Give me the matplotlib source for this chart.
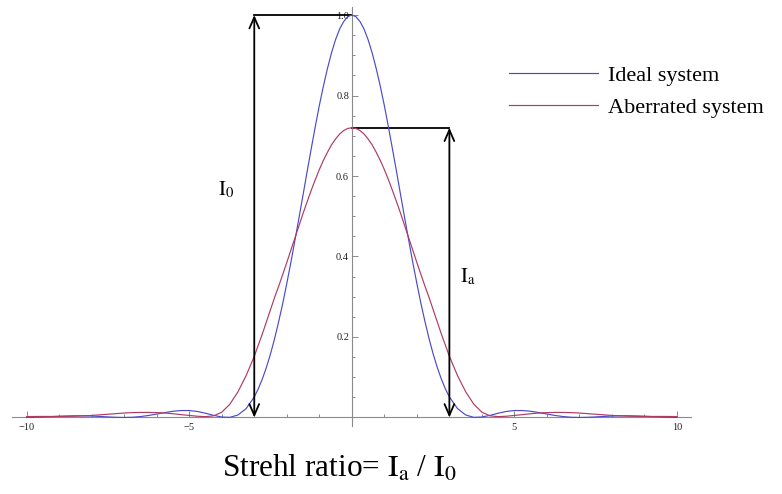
import numpy as np
import matplotlib
matplotlib.use("Agg")
import matplotlib.pyplot as plt

plt.rcParams["font.family"] = ["Liberation Serif", "DejaVu Serif"]
plt.rcParams["mathtext.fontset"] = "stix"

# sample positions: step 0.25 in the tails, 0.125 around the central peak
x = np.concatenate([np.arange(-10, -3, 0.25),
                    np.arange(-3, 3, 0.125),
                    np.arange(3, 10.001, 0.25)])

# intensity of the ideal system
ideal = [0.0001, 0.0005, 0.0012, 0.0020, 0.0030, 0.0037, 0.0041, 0.0040, 0.0034, 0.0025,
         0.0013, 0.0004, 0.0000, 0.0005, 0.0022, 0.0049, 0.0085, 0.0121, 0.0154, 0.0172,
         0.0172, 0.0149, 0.0105, 0.0052, 0.0011, 0.0003, 0.0062, 0.022,
         # centre, x = -3 .. 2.875
         0.051, 0.0714, 0.096, 0.1249, 0.158, 0.1958, 0.238, 0.2833, 0.333, 0.3849,
         0.440, 0.4960, 0.553, 0.6109, 0.667, 0.7224, 0.775, 0.8232, 0.867, 0.9061,
         0.939, 0.9653, 0.984, 0.9961, 1.000, 0.9961, 0.984, 0.9653, 0.939, 0.9061,
         0.867, 0.8232, 0.775, 0.7224, 0.667, 0.6109, 0.553, 0.4960, 0.440, 0.3849,
         0.333, 0.2833, 0.238, 0.1958, 0.158, 0.1249, 0.096, 0.0714,
         # x = 3 .. 10
         0.051, 0.022, 0.0062, 0.0003, 0.0011, 0.0052, 0.0105, 0.0149, 0.0172, 0.0172,
         0.0154, 0.0121, 0.0085, 0.0049, 0.0022, 0.0005, 0.0000, 0.0004, 0.0013, 0.0025,
         0.0034, 0.0040, 0.0041, 0.0037, 0.0030, 0.0020, 0.0012, 0.0005, 0.0001]

# intensity of the aberrated system
aberrated = [0.0022, 0.0024, 0.0025, 0.0025, 0.0025, 0.0027, 0.0032, 0.004, 0.005, 0.0065,
             0.008, 0.0095, 0.011, 0.012, 0.0125, 0.0125, 0.012, 0.011, 0.0093, 0.007,
             0.005, 0.003, 0.002, 0.004, 0.013, 0.033, 0.064, 0.104,
             # centre, x = -3 .. 2.875
             0.152, 0.180, 0.208, 0.238, 0.268, 0.2983, 0.326, 0.3555, 0.385, 0.4157,
             0.446, 0.4766, 0.507, 0.5359, 0.564, 0.5908, 0.616, 0.6388, 0.659, 0.6774,
             0.692, 0.7044, 0.713, 0.7182, 0.720, 0.7182, 0.713, 0.7044, 0.692, 0.6774,
             0.659, 0.6388, 0.616, 0.5908, 0.564, 0.5359, 0.507, 0.4766, 0.446, 0.4157,
             0.385, 0.3555, 0.326, 0.2983, 0.268, 0.238, 0.208, 0.180,
             # x = 3 .. 10
             0.152, 0.104, 0.064, 0.033, 0.013, 0.004, 0.002, 0.003, 0.005, 0.007,
             0.0093, 0.011, 0.012, 0.0125, 0.0125, 0.012, 0.011, 0.0095, 0.008, 0.0065,
             0.005, 0.004, 0.0032, 0.0027, 0.0025, 0.0025, 0.0025, 0.0024, 0.0022]

series_names = ["Ideal system", "Aberrated system"]
x_major = [-10, -5, 5, 10]
x_labels = ["\u221210", "\u22125", "5", "10"]
y_major = [0.2, 0.4, 0.6, 0.8, 1.0]
y_labels = ["0.2", "0.4", "0.6", "0.8", "1.0"]
arrow_x = [-3.0, 3.0]  # where the I0 / Ia arrows stand

blue = "#4b4bc8"
red = "#b03a64"

fig = plt.figure(figsize=(7.82, 4.94), dpi=100)
ax = fig.add_axes([12 / 782, 1 - 425.5 / 494, 679 / 782, 418.5 / 494])
ax.set_xlim(-10.45, 10.43)
ax.set_ylim(-0.02, 1.02)

ax.plot(x, ideal, color=blue, lw=0.85, label=series_names[0], clip_on=False, zorder=3)
ax.plot(x, aberrated, color=red, lw=0.85, label=series_names[1], clip_on=False, zorder=3)

# axes through the origin, Mathematica style
for s in ["top", "right"]:
    ax.spines[s].set_visible(False)
ax.spines["bottom"].set_position(("data", 0))
ax.spines["left"].set_position(("data", 0))
for s in ["bottom", "left"]:
    ax.spines[s].set_color("#8a8a8a")
    ax.spines[s].set_linewidth(0.8)

ax.set_xticks(x_major)
ax.set_xticklabels(x_labels)
ax.set_xticks([v for v in range(-9, 10) if v % 5 != 0], minor=True)
ax.set_yticks(y_major)
ax.set_yticklabels(y_labels)
ax.set_yticks([v / 20 for v in range(1, 20) if v % 4 != 0], minor=True)
ax.tick_params(which="both", direction="in", color="#8a8a8a", width=0.7,
               labelsize=7.5, labelcolor="#222222")
ax.tick_params(which="major", length=4.5)
ax.tick_params(which="minor", length=2.5)
ax.tick_params(axis="x", pad=4)
ax.tick_params(axis="y", pad=2)

# I0 and Ia markers
peak_ideal = max(ideal)
peak_aberr = max(aberrated)
arrow_kw = dict(arrowstyle="<->,head_length=0.8,head_width=0.35", color="black",
                lw=1.3, shrinkA=0, shrinkB=0, mutation_scale=10)
ax.annotate("", xy=(arrow_x[0], 0), xytext=(arrow_x[0], peak_ideal),
            arrowprops=arrow_kw, annotation_clip=False)
ax.annotate("", xy=(arrow_x[1], 0), xytext=(arrow_x[1], peak_aberr),
            arrowprops=arrow_kw, annotation_clip=False)
ax.plot([arrow_x[0], 0], [peak_ideal, peak_ideal], color="black", lw=1.3, clip_on=False)
ax.plot([0, arrow_x[1]], [peak_aberr, peak_aberr], color="black", lw=1.3, clip_on=False)

ax.text(-4.12, 0.553, r"$\mathrm{I}_0$", fontsize=15, ha="left", va="baseline")
ax.text(3.32, 0.337, r"$\mathrm{I}_\mathrm{a}$", fontsize=15, ha="left", va="baseline")

ax.legend(loc="upper left", bbox_to_anchor=(509 / 782, 1 - 65 / 494),
          bbox_transform=fig.transFigure, frameon=False, fontsize=16,
          handlelength=4.0, handletextpad=0.45, labelspacing=0.52,
          borderpad=0, borderaxespad=0)

fig.text(222 / 782, 1 - 477 / 494, r"Strehl ratio= $\mathrm{I}_\mathrm{a}$ / $\mathrm{I}_0$",
         fontsize=22.5, ha="left", va="baseline")

fig.savefig("out.png", dpi=100)
